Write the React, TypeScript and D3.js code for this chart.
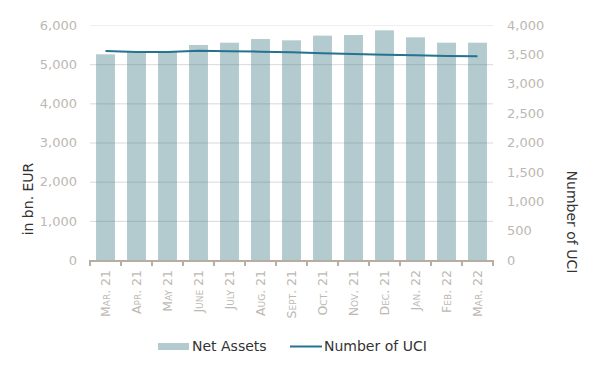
import { useEffect, useRef } from "react";
import * as d3 from "d3";

const months = [
  "Mar. 21", "Apr. 21", "May 21", "June 21", "July 21", "Aug. 21", "Sept. 21",
  "Oct. 21", "Nov. 21", "Dec. 21", "Jan. 22", "Feb. 22", "Mar. 22",
];
const netAssets = [5252, 5319, 5320, 5489, 5548, 5642, 5609, 5728, 5745, 5864, 5685, 5548, 5548];
const numberOfUci = [3557, 3540, 3540, 3563, 3552, 3546, 3535, 3518, 3506, 3495, 3484, 3472, 3467];
const leftTicks = [0, 1000, 2000, 3000, 4000, 5000, 6000];
const rightTicks = [0, 500, 1000, 1500, 2000, 2500, 3000, 3500, 4000];

const FONT = "DejaVu Sans, Verdana, sans-serif";
const BAR = "#b3cacf";
const LINE = "#26738f";
const TICK_TEXT = "#bdb8b2";
const AXIS = "#b8ada3";

export default function App() {
  const ref = useRef<SVGSVGElement>(null);

  useEffect(() => {
    if (!ref.current) return;
    const svg = d3.select(ref.current);
    svg.selectAll("*").remove();

    const left = 90, right = 493, top = 25, bottom = 260;

    const x = d3.scaleBand().domain(months).range([left, right]).paddingInner(0.39).paddingOuter(0.195);
    const yL = d3.scaleLinear().domain([0, 6000]).range([bottom, top]);
    const yR = d3.scaleLinear().domain([0, 4000]).range([bottom, top]);
    const step = (right - left) / months.length;

    // bars
    svg.append("g")
      .selectAll("rect")
      .data(netAssets)
      .join("rect")
      .attr("x", (_, i) => x(months[i])!)
      .attr("y", (d) => yL(d))
      .attr("width", x.bandwidth())
      .attr("height", (d) => bottom - yL(d))
      .attr("fill", BAR);

    // grid lines on top of bars
    svg.append("g")
      .selectAll("line")
      .data(leftTicks.filter((t) => t > 0))
      .join("line")
      .attr("x1", left)
      .attr("x2", right)
      .attr("y1", (d) => yL(d) + 0.5)
      .attr("y2", (d) => yL(d) + 0.5)
      .attr("stroke", (d) => (d === 6000 ? "#eeeeee" : "rgba(110,120,125,0.28)"))
      .attr("stroke-width", 1);

    // line
    const line = d3.line<number>()
      .x((_, i) => x(months[i])! + x.bandwidth() / 2)
      .y((d) => yR(d));
    svg.append("path")
      .datum(numberOfUci)
      .attr("d", line)
      .attr("fill", "none")
      .attr("stroke", LINE)
      .attr("stroke-width", 2);

    // x axis
    svg.append("line")
      .attr("x1", left).attr("x2", right)
      .attr("y1", bottom + 1).attr("y2", bottom + 1)
      .attr("stroke", AXIS).attr("stroke-width", 2);
    svg.append("g")
      .selectAll("line")
      .data(d3.range(months.length + 1))
      .join("line")
      .attr("x1", (i) => left + i * step)
      .attr("x2", (i) => left + i * step)
      .attr("y1", bottom)
      .attr("y2", bottom + 6)
      .attr("stroke", AXIS)
      .attr("stroke-width", 2);

    svg.append("g")
      .selectAll("text")
      .data(months)
      .join("text")
      .attr("transform", (d) => `translate(${x(d)! + x.bandwidth() / 2},${bottom + 10}) rotate(-90)`)
      .attr("dy", "0.36em")
      .attr("text-anchor", "end")
      .style("font-variant", "small-caps")
      .style("font-family", FONT)
      .style("font-size", "12.5px")
      .attr("fill", TICK_TEXT)
      .text((d) => d);

    // left axis labels
    svg.append("g")
      .selectAll("text")
      .data(leftTicks)
      .join("text")
      .attr("x", 77)
      .attr("y", (d) => yL(d))
      .attr("dy", "0.36em")
      .attr("text-anchor", "end")
      .style("font-family", FONT)
      .style("font-size", "13px")
      .attr("fill", TICK_TEXT)
      .text((d) => d3.format(",")(d));

    // right axis labels
    svg.append("g")
      .selectAll("text")
      .data(rightTicks)
      .join("text")
      .attr("x", 507)
      .attr("y", (d) => yR(d))
      .attr("dy", "0.36em")
      .attr("text-anchor", "start")
      .style("font-family", FONT)
      .style("font-size", "13px")
      .attr("fill", TICK_TEXT)
      .text((d) => d3.format(",")(d));

    // axis titles
    svg.append("text")
      .attr("transform", "translate(33,199) rotate(-90)")
      .attr("text-anchor", "middle")
      .style("font-family", FONT)
      .style("font-size", "14px")
      .attr("fill", "#333")
      .text("in bn. EUR");
    svg.append("text")
      .attr("transform", "translate(567,222) rotate(90)")
      .attr("text-anchor", "middle")
      .style("font-family", FONT)
      .style("font-size", "14px")
      .attr("fill", "#333")
      .text("Number of UCI");

    // legend
    const lg = svg.append("g").style("font-family", FONT).style("font-size", "14px").attr("fill", "#333");
    lg.append("rect").attr("x", 158).attr("y", 343).attr("width", 31).attr("height", 7).attr("fill", BAR);
    lg.append("text").attr("x", 192).attr("y", 346).attr("dy", "0.36em").text("Net Assets");
    lg.append("line").attr("x1", 290).attr("x2", 322).attr("y1", 346.5).attr("y2", 346.5)
      .attr("stroke", LINE).attr("stroke-width", 2);
    lg.append("text").attr("x", 324).attr("y", 346).attr("dy", "0.36em").text("Number of UCI");
  }, []);

  return (
    <svg
      ref={ref}
      width={600}
      height={370}
      style={{ position: "absolute", left: 0, top: 0, background: "#fff" }}
    />
  );
}
